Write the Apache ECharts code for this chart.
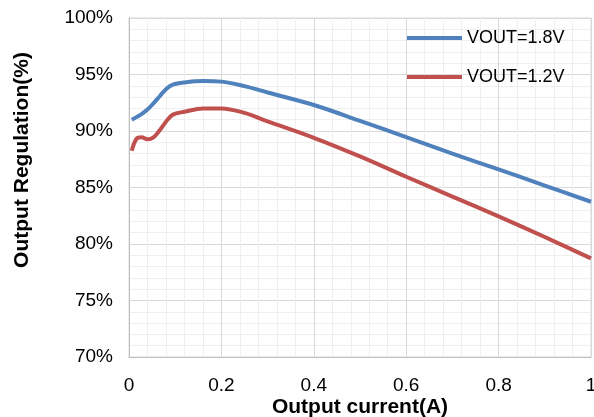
<!DOCTYPE html>
<html>
<head>
<meta charset="utf-8">
<script src="https://cdn.jsdelivr.net/npm/echarts@6/dist/echarts.min.js"></script>
<style>
html,body{margin:0;padding:0;background:#fff;}
#chart{width:594px;height:417px;}
</style>
</head>
<body>
<div id="chart"></div>
<script>
var current = [0.006, 0.017, 0.027, 0.04, 0.053, 0.067, 0.08, 0.095, 0.12, 0.16, 0.2, 0.25, 0.3, 0.4, 0.5, 0.6, 0.7, 0.8, 0.9, 1.0];
var vout18 = [91.0, 91.25, 91.5, 91.9, 92.45, 93.1, 93.7, 94.1, 94.3, 94.42, 94.37, 93.97, 93.41, 92.3, 90.9, 89.45, 88.0, 86.6, 85.17, 83.74];
var vout12 = [88.26, 89.35, 89.44, 89.26, 89.44, 90.09, 90.82, 91.45, 91.7, 92.0, 92.0, 91.6, 90.85, 89.4, 87.75, 85.95, 84.2, 82.45, 80.62, 78.73];
var seriesNames = ['VOUT=1.8V', 'VOUT=1.2V'];
var xTickLabels = ['0', '0.2', '0.4', '0.6', '0.8', '1'];
var xTitle = 'Output current(A)';
var yTitle = 'Output Regulation(%)';

function pairs(xs, ys) { return xs.map(function (x, i) { return [x, ys[i]]; }); }

var chart = echarts.init(document.getElementById('chart'), null, {renderer: 'canvas'});
var font = 'Liberation Sans, Arial, sans-serif';
chart.setOption({
  animation: false,
  grid: {left: 129, right: 3, top: 18, bottom: 60, outerBoundsMode: 'none', containLabel: false,
    show: true, borderColor: '#D9D9D9', borderWidth: 1, backgroundColor: 'transparent'},
  legend: {
    orient: 'vertical', left: 407, top: 28, padding: 0, itemWidth: 55, itemHeight: 4, itemGap: 19,
    icon: 'rect',
    textStyle: {fontFamily: font, fontSize: 18, color: '#000', lineHeight: 20},
    data: seriesNames
  },
  xAxis: {
    type: 'value', min: 0, max: 1, interval: 0.2,
    axisLine: {show: true, lineStyle: {color: '#BFBFBF', width: 1}},
    axisTick: {show: false},
    axisLabel: {margin: 19, fontFamily: font, fontSize: 19, color: '#000',
      formatter: function (v) { return xTickLabels[Math.round(v / 0.2)]; }},
    splitLine: {show: true, lineStyle: {color: '#D9D9D9', width: 1}},
    minorTick: {show: false, splitNumber: 5},
    minorSplitLine: {show: true, lineStyle: {color: '#EFEFEF', width: 1}}
  },
  yAxis: {
    type: 'value', min: 70, max: 100, interval: 5,
    axisLine: {show: true, lineStyle: {color: '#BFBFBF', width: 1}},
    axisTick: {show: false},
    axisLabel: {margin: 16, fontFamily: font, fontSize: 19, color: '#000', formatter: '{value}%'},
    splitLine: {show: true, lineStyle: {color: '#D9D9D9', width: 1}},
    minorTick: {show: false, splitNumber: 5},
    minorSplitLine: {show: true, lineStyle: {color: '#EFEFEF', width: 1}}
  },
  graphic: [
    {type: 'text', x: 360, y: 407, style: {text: xTitle, fontFamily: font, fontSize: 21, fontWeight: 'bold', fill: '#000', align: 'center', verticalAlign: 'middle'}, silent: true},
    {type: 'text', x: 22, y: 160, rotation: Math.PI / 2, style: {text: yTitle, fontFamily: font, fontSize: 21, fontWeight: 'bold', fill: '#000', align: 'center', verticalAlign: 'middle'}, silent: true}
  ],
  series: [
    {name: seriesNames[0], type: 'line', data: pairs(current, vout18), showSymbol: false, smooth: 0.35,
      color: '#4F81BD', lineStyle: {color: '#4F81BD', width: 4}},
    {name: seriesNames[1], type: 'line', data: pairs(current, vout12), showSymbol: false, smooth: 0.35,
      color: '#C0504D', lineStyle: {color: '#C0504D', width: 4}}
  ]
});
</script>
</body>
</html>
